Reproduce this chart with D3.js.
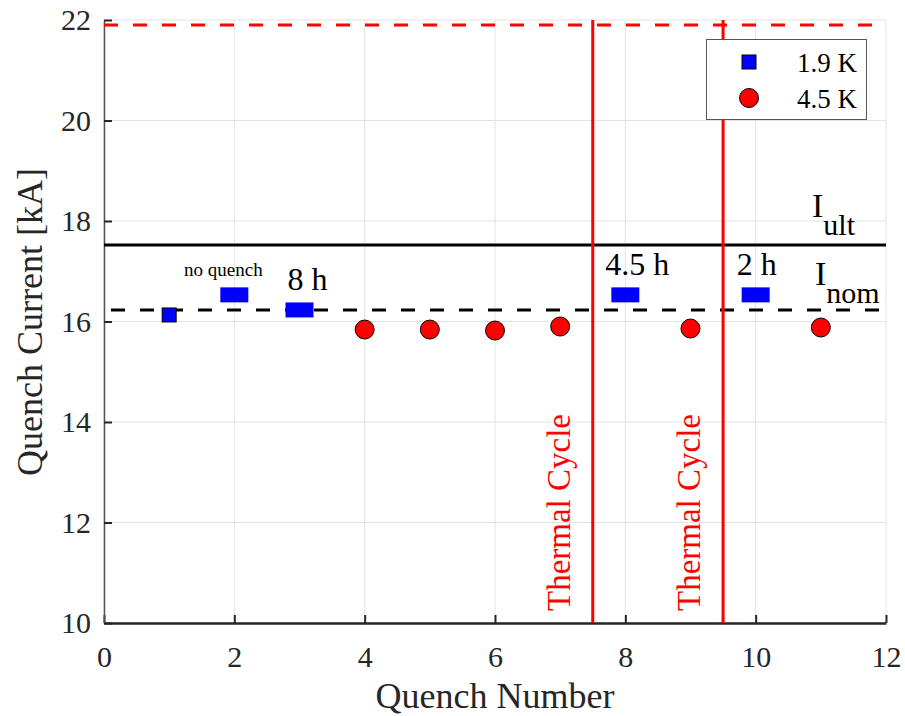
<!DOCTYPE html>
<html><head><meta charset="utf-8">
<script src="https://cdn.jsdelivr.net/npm/d3@7"></script>
<style>body{margin:0;background:#fff}svg{display:block}svg text{font-family:"Liberation Serif","Times New Roman",serif !important}</style>
</head><body><svg id="c" width="905" height="716"></svg>
<script>
const xTicks = [0,2,4,6,8,10,12];
const yTicks = [10,12,14,16,18,20,22];
const q19 = [1,2,3,8,10];
const i19 = [16.13,16.53,16.23,16.53,16.53];
const q45 = [4,5,6,7,9,11];
const i45 = [15.84,15.84,15.82,15.90,15.86,15.88];
const iUlt = 17.52, iNom = 16.23, iMax = 21.9;
const thermal = [7.5,9.5];
const notes = [{q:2,t:"no quench"},{q:3,t:"8 h"},{q:8,t:"4.5 h"},{q:10,t:"2 h"}];

const svg = d3.select("#c");
const L=104,R=886,T=20,B=623;
const x = d3.scaleLinear().domain([0,12]).range([L,R]);
const y = d3.scaleLinear().domain([10,22]).range([B,T]);
const FF = "Liberation Serif";

// grid
svg.append("g").selectAll("line").data(xTicks).join("line")
 .attr("x1",d=>x(d)).attr("x2",d=>x(d)).attr("y1",T).attr("y2",B)
 .attr("stroke","#e3e3e3").attr("stroke-width",1);
svg.append("g").selectAll("line").data(yTicks).join("line")
 .attr("x1",L).attr("x2",R).attr("y1",d=>y(d)).attr("y2",d=>y(d))
 .attr("stroke","#e3e3e3").attr("stroke-width",1);

// axes
const xa = svg.append("g").attr("transform",`translate(0,${B})`)
 .call(d3.axisBottom(x).tickValues(xTicks).tickSizeInner(-8).tickSizeOuter(0).tickPadding(23));
const ya = svg.append("g").attr("transform",`translate(${L},0)`)
 .call(d3.axisLeft(y).tickValues(yTicks).tickSizeInner(-8).tickSizeOuter(0).tickPadding(13));
[xa,ya].forEach(a=>{
 a.attr("font-family",FF);
 a.selectAll("text").attr("font-size",30).attr("fill","#262626");
 a.selectAll("line").attr("stroke","#262626").attr("stroke-width",2);
});
xa.select(".domain").attr("stroke","#262626").attr("stroke-width",2.5);
ya.select(".domain").attr("stroke","#555").attr("stroke-width",1.5);

// reference lines
svg.append("line").attr("x1",L).attr("x2",R).attr("y1",y(iMax)).attr("y2",y(iMax))
 .attr("stroke","#ff0000").attr("stroke-width",3).attr("stroke-dasharray","14,15");
svg.append("line").attr("x1",L).attr("x2",R).attr("y1",y(iUlt)).attr("y2",y(iUlt))
 .attr("stroke","#000").attr("stroke-width",3);
svg.append("line").attr("x1",L+7).attr("x2",R).attr("y1",y(iNom)).attr("y2",y(iNom))
 .attr("stroke","#000").attr("stroke-width",3).attr("stroke-dasharray","14,15");
svg.append("g").selectAll("line").data(thermal).join("line")
 .attr("x1",d=>x(d)).attr("x2",d=>x(d)).attr("y1",T).attr("y2",B)
 .attr("stroke","#ff0000").attr("stroke-width",3);
svg.append("g").selectAll("text").data(thermal).join("text")
 .attr("transform",d=>`translate(${x(d)-23},${B-12}) rotate(-90)`)
 .attr("font-family",FF).attr("font-size",33).attr("fill","#ff0000").text("Thermal Cycle");

// 1.9 K markers
svg.append("g").selectAll("rect").data(q19.map((q,i)=>({q,v:i19[i]}))).join("rect")
 .attr("x",d=>x(d.q)-(d.q===1?7:14)).attr("y",d=>y(d.v)-(d.q===1?7:7.5))
 .attr("width",d=>d.q===1?14:28).attr("height",d=>d.q===1?14:15)
 .attr("fill","#0000ff").attr("stroke",d=>d.q===1?"#000":"none").attr("stroke-width",1);
// 4.5 K markers
svg.append("g").selectAll("circle").data(q45.map((q,i)=>({q,v:i45[i]}))).join("circle")
 .attr("cx",d=>x(d.q)).attr("cy",d=>y(d.v)).attr("r",9.5)
 .attr("fill","#ff0000").attr("stroke","#000").attr("stroke-width",1);

// notes
const nmap = {2:{dx:-11,dy:-19,fs:19},3:{dx:8,dy:-20,fs:32},8:{dx:12,dy:-20,fs:32},10:{dx:1,dy:-20,fs:32}};
svg.append("g").selectAll("text").data(notes).join("text")
 .attr("x",d=>x(d.q)+nmap[d.q].dx)
 .attr("y",d=>y(i19[q19.indexOf(d.q)])+nmap[d.q].dy)
 .attr("text-anchor","middle").attr("font-family",FF).attr("font-size",d=>nmap[d.q].fs).attr("fill","#000").text(d=>d.t);

// I_ult, I_nom labels
const tu = svg.append("text").attr("x",812).attr("y",217).attr("font-family",FF).attr("font-size",34);
tu.append("tspan").text("I");
tu.append("tspan").attr("dy",18).attr("font-size",30).text("ult");
const tn = svg.append("text").attr("x",815).attr("y",285).attr("font-family",FF).attr("font-size",34);
tn.append("tspan").text("I");
tn.append("tspan").attr("dy",18).attr("font-size",30).text("nom");

// axis titles
svg.append("text").attr("x",495).attr("y",708).attr("text-anchor","middle")
 .attr("font-family",FF).attr("font-size",36).attr("fill","#262626").text("Quench Number");
svg.append("text").attr("transform",`translate(42,322) rotate(-90)`).attr("text-anchor","middle")
 .attr("font-family",FF).attr("font-size",36).attr("fill","#262626").text("Quench Current [kA]");

// legend
const lg = svg.append("g");
lg.append("rect").attr("x",706.5).attr("y",39.5).attr("width",160).attr("height",80)
 .attr("fill","#fff").attr("stroke","#555").attr("stroke-width",1);
lg.append("rect").attr("x",742).attr("y",55).attr("width",14).attr("height",14)
 .attr("fill","#0000ff").attr("stroke","#000");
lg.append("circle").attr("cx",749).attr("cy",98).attr("r",9.5).attr("fill","#ff0000").attr("stroke","#000");
lg.append("text").attr("x",857).attr("y",72).attr("text-anchor","end").attr("font-family",FF).attr("font-size",27).text("1.9 K");
lg.append("text").attr("x",857).attr("y",108).attr("text-anchor","end").attr("font-family",FF).attr("font-size",27).text("4.5 K");
</script></body></html>
